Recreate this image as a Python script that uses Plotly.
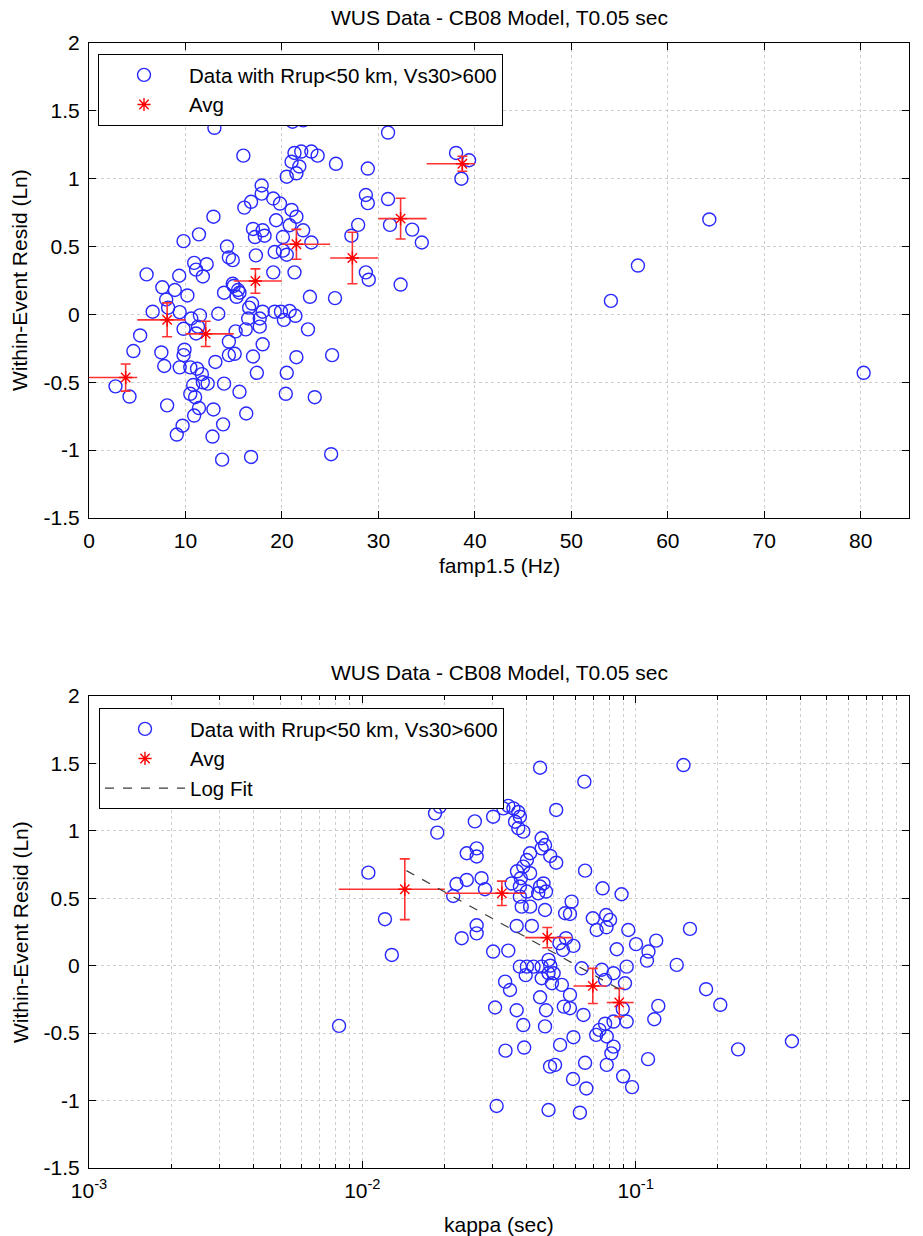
import plotly.graph_objects as go

# ---------------- data: top panel (famp1.5) ----------------
famp = [2.75, 4.2, 4.6, 5.3, 5.97, 6.6, 7.5, 7.6, 7.8, 8.0, 8.1, 8.2, 8.9, 9.1, 9.35, 9.4, 9.4, 9.7, 9.8, 9.8,
        9.9, 10.2, 10.5, 10.5, 10.6, 10.8, 10.9, 10.9, 11.0, 11.1, 11.1, 11.2, 11.3, 11.4, 11.5, 11.7, 11.8, 11.8, 12.2, 12.3,
        12.8, 12.9, 13.1, 13.4, 13.8, 13.9, 14.0, 14.0, 14.5, 14.5, 15.0, 15.1, 15.2, 15.3, 15.6, 15.6, 16.25, 16.3, 16.5, 16.6,
        16.8, 16.9, 17.0, 17.4, 17.7, 17.7, 18.0, 18.0, 19.1, 19.25, 19.9, 20.2, 20.4, 20.5, 20.8, 21.3, 21.4, 21.5,
        18.0, 21.1, 22.2, 13.0, 16.0, 21.3, 22.0, 23.05, 23.7, 21.0, 21.8, 21.5, 20.5, 25.6, 28.9,
        17.9, 17.9, 16.1, 16.8, 19.1, 19.8, 21.0, 21.5, 12.9, 19.4, 20.8, 22.2, 20.1, 17.0, 18.0,
        17.2, 18.2, 11.4, 9.8, 14.3, 14.5, 14.9, 17.3, 19.25, 20.1, 20.5, 14.9, 15.45, 22.9, 25.5,
        31.0, 38.05, 39.4, 38.6, 28.7, 28.9, 31.0, 27.9, 27.2, 31.2, 33.5, 34.5, 23.05, 28.7, 29.0, 32.3,
        25.1, 25.2, 23.4, 22.7, 54.1, 56.9, 64.3, 80.3]
resid_top = [-0.53, -0.605, -0.27, -0.155, 0.295, 0.02, -0.28, 0.20, -0.38, 0.11, -0.67, 0.05, 0.18, -0.885, 0.285, 0.017, -0.39, -0.82, -0.106, -0.30,
             -0.26, 0.14, -0.39, -0.585, -0.03, -0.52, 0.38, -0.745, -0.61, 0.33, -0.14, -0.40, -0.09, -0.69, -0.007, -0.44, 0.28, -0.50, 0.37, -0.51,
             -0.90, -0.70, -0.35, 0.005, -1.07, -0.81, 0.16, -0.51, -0.20, -0.30, 0.21, -0.29, -0.125, 0.13, 0.16, -0.57, -0.11, -0.73, -0.03, 0.05,
             -1.05, 0.08, -0.31, -0.43, -0.03, -0.09, 0.02, -0.22, 0.31, 0.02, 0.02, -0.04, -0.585, -0.43, 0.025, 0.31, -0.01, -0.315,
             1.47, 1.42, 1.43, 1.375, 1.17, 1.19, 1.20, 1.20, 1.17, 1.125, 1.09, 1.04, 1.015, 1.11, 1.075,
             0.95, 0.89, 0.787, 0.83, 0.854, 0.817, 0.77, 0.72, 0.72, 0.694, 0.657, 0.62, 0.57, 0.63, 0.62,
             0.57, 0.58, 0.59, 0.54, 0.50, 0.42, 0.40, 0.435, 0.46, 0.47, 0.44, 0.226, 0.18, 0.13, 0.12,
             1.34, 1.19, 1.136, 1.00, 0.88, 0.82, 0.85, 0.66, 0.58, 0.66, 0.625, 0.53, 0.53, 0.31, 0.256, 0.22,
             -1.03, -0.30, -0.61, -0.11, 0.10, 0.36, 0.70, -0.43]

avg_top_x = [3.8, 8.1, 12.1, 17.25, 21.5, 27.3, 32.3, 38.7]
avg_top_y = [-0.465, -0.04, -0.143, 0.246, 0.517, 0.416, 0.706, 1.11]
avg_top_yerr = [0.10, 0.125, 0.093, 0.09, 0.11, 0.19, 0.15, 0.055]
bin_top_lo = [0, 5, 10, 15, 20, 25, 30, 35]
bin_top_hi = [5, 10, 15, 20, 25, 30, 35, 40]

# ---------------- data: bottom panel (kappa) ----------------
kappa = [0.0447, 0.0192, 0.01845, 0.0188, 0.0258, 0.0301, 0.0328, 0.0342, 0.0357, 0.0372, 0.0377, 0.0362, 0.0372,
         0.0388, 0.0453, 0.0466, 0.0453, 0.0241, 0.0262, 0.0262, 0.01052, 0.0411, 0.0400, 0.0388, 0.0368, 0.0411,
         0.0121, 0.01282, 0.00822, 0.0221, 0.0241, 0.0273, 0.0281, 0.0215, 0.0262, 0.0262, 0.0231, 0.0301, 0.0342,
         0.0367, 0.0417, 0.0352, 0.0377, 0.0400, 0.0447, 0.044, 0.047, 0.046, 0.0383, 0.0411, 0.0466, 0.0377, 0.0400,
         0.0423, 0.0396, 0.0453, 0.0453, 0.048, 0.048, 0.0333, 0.0347, 0.0306, 0.0367, 0.0447, 0.0388, 0.047, 0.0466,
         0.0334, 0.0391, 0.0310, 0.0486, 0.0480,
         0.1496, 0.0649, 0.0512, 0.0487, 0.0512, 0.038, 0.0377, 0.0653, 0.0757, 0.0888, 0.158, 0.1189, 0.1114, 0.1100,
         0.1003, 0.0940, 0.0853, 0.0697, 0.078, 0.0806, 0.072, 0.0782, 0.0583, 0.0552, 0.0575, 0.1413, 0.181, 0.204,
         0.121, 0.117, 0.111, 0.0927, 0.0914, 0.0927, 0.083, 0.0752, 0.0773, 0.083, 0.0773, 0.0737, 0.0717, 0.0784,
         0.083, 0.0815, 0.0784, 0.0653, 0.0592, 0.0529, 0.0507, 0.0635, 0.0644, 0.0575, 0.0546, 0.0575, 0.0537, 0.0494,
         0.0501, 0.0487, 0.0526, 0.0556, 0.0592, 0.0542,
         0.373, 0.237, 0.059, 0.066, 0.090, 0.097, 0.0625, 0.0897]
resid_bot = [1.468, 1.18, 1.13, 0.987, 1.07, 1.105, 1.167, 1.185, 1.167, 1.14, 1.105, 1.068, 1.02,
             0.994, 0.945, 0.895, 0.87, 0.834, 0.87, 0.81, 0.69, 0.834, 0.784, 0.735, 0.70, 0.686,
             0.345, 0.08, -0.446, 0.606, 0.636, 0.649, 0.567, 0.517, 0.30, 0.24, 0.204, 0.105, 0.112,
             0.295, 0.295, 0.61, 0.587, 0.55, 0.587, 0.537, 0.55, 0.61, 0.438, 0.438, 0.413, -0.007, -0.007,
             -0.007, -0.07, -0.007, -0.093, 0.043, -0.056, -0.118, -0.18, -0.31, -0.33, -0.234, -0.44, -0.33, -0.45,
             -0.63, -0.607, -1.04, -0.748, -1.07,
             1.488, 1.365, 1.155, 0.814, 0.764, 0.649, 0.512, 0.705, 0.574, 0.53, 0.273, 0.186, 0.105, 0.038,
             0.16, 0.265, 0.122, 0.352, 0.376, 0.34, 0.265, 0.285, 0.475, 0.389, 0.384, 0.006, -0.174, -0.29,
             -0.298, -0.397, -0.693, -0.007, -0.13, -0.414, -0.056, -0.03, -0.105, -0.414, -0.43, -0.476, -0.513, -0.525,
             -0.60, -0.65, -0.735, -0.72, -0.53, -0.587, -0.735, -0.019, -0.365, -0.216, -0.303, -0.315, -0.142, -0.13,
             -0.056, 0.0, 0.167, 0.204, 0.147, 0.117,
             -0.56, -0.62, -0.84, -0.91, -0.82, -0.90, -1.09, -0.32]

avg_bot_x = [0.0143, 0.0324, 0.0475, 0.0697, 0.0871]
avg_bot_y = [0.567, 0.537, 0.208, -0.15, -0.273]
avg_bot_yerr = [0.225, 0.09, 0.075, 0.13, 0.105]
avg_bot_xlo = [0.0082, 0.0200, 0.0394, 0.0592, 0.0784]
avg_bot_xhi = [0.0200, 0.0394, 0.0583, 0.0784, 0.0983]

fit_x = [0.0145, 0.0871]
fit_y = [0.705, -0.174]

# ---------------- labels / ticks ----------------
title_text = "WUS Data - CB08 Model, T0.05 sec"
ylabel = "Within-Event Resid (Ln)"
xlabel_top = "famp1.5 (Hz)"
xlabel_bot = "kappa (sec)"
legend_data = "Data with Rrup<50 km, Vs30>600"
legend_avg = "Avg"
legend_fit = "Log Fit"
y_tickvals = [-1.5, -1, -0.5, 0, 0.5, 1, 1.5, 2]
y_ticktext = ["-1.5", "-1", "-0.5", "0", "0.5", "1", "1.5", "2"]
x_top_tickvals = [0, 10, 20, 30, 40, 50, 60, 70, 80]
x_bot_tickvals = [0.001, 0.01, 0.1, 1]
x_bot_ticktext = ["10<sup>-3</sup>", "10<sup>-2</sup>", "10<sup>-1</sup>", "10<sup>0</sup>"]

# ---------------- figure ----------------
W, H = 923, 1236
FONT = "Liberation Sans, Arial, sans-serif"
FS = 21
LFS = 20.5
BLUE = "rgb(40,40,255)"
RED = "rgb(255,50,50)"
GRID = "rgb(205,205,205)"

fig = go.Figure()

circle_marker = dict(symbol="circle-open", size=13, color=BLUE, line=dict(width=1.4, color=BLUE))
star_marker = dict(symbol="asterisk-open", size=11, color="red", line=dict(width=1.4, color="red"))

fig.add_trace(go.Scatter(x=famp, y=resid_top, mode="markers", marker=circle_marker,
                         name=legend_data, xaxis="x", yaxis="y", legend="legend"))
fig.add_trace(go.Scatter(
    x=avg_top_x, y=avg_top_y, mode="markers", marker=star_marker, name=legend_avg,
    xaxis="x", yaxis="y", legend="legend",
    error_y=dict(type="data", array=avg_top_yerr, color=RED, thickness=1.6, width=5),
    error_x=dict(type="data", symmetric=False,
                 array=[h - x for h, x in zip(bin_top_hi, avg_top_x)],
                 arrayminus=[x - l for l, x in zip(bin_top_lo, avg_top_x)],
                 color=RED, thickness=1.6, width=0)))

fig.add_trace(go.Scatter(x=kappa, y=resid_bot, mode="markers", marker=circle_marker,
                         name=legend_data, xaxis="x2", yaxis="y2", legend="legend2"))
fig.add_trace(go.Scatter(
    x=avg_bot_x, y=avg_bot_y, mode="markers", marker=star_marker, name=legend_avg,
    xaxis="x2", yaxis="y2", legend="legend2",
    error_y=dict(type="data", array=avg_bot_yerr, color=RED, thickness=1.6, width=5),
    error_x=dict(type="data", symmetric=False,
                 array=[h - x for h, x in zip(avg_bot_xhi, avg_bot_x)],
                 arrayminus=[x - l for l, x in zip(avg_bot_xlo, avg_bot_x)],
                 color=RED, thickness=1.6, width=0)))
fig.add_trace(go.Scatter(x=fit_x, y=fit_y, mode="lines", name=legend_fit,
                         line=dict(color="rgb(60,60,60)", width=1.2, dash="dash"),
                         xaxis="x2", yaxis="y2", legend="legend2"))

L, R = 89 / W, 909 / W
top_dom = [1 - 518 / H, 1 - 43 / H]
bot_dom = [1 - 1168 / H, 1 - 696 / H]

axis_common = dict(showline=True, linecolor="black", linewidth=1, mirror="ticks",
                   ticks="inside", ticklen=7, tickcolor="black", tickwidth=1,
                   showgrid=True, gridcolor=GRID, griddash="dot", gridwidth=1,
                   zeroline=False, automargin=False,
                   tickfont=dict(family=FONT, size=FS, color="black"))

minor_vals = [m * 10 ** e for e in (-3, -2, -1) for m in range(2, 10)]

legend_common = dict(xanchor="left", yanchor="top", bgcolor="white",
                     bordercolor="black", borderwidth=1, itemwidth=80,
                     font=dict(family=FONT, size=LFS, color="black"), tracegroupgap=0)

fig.update_layout(
    width=W, height=H, margin=dict(l=0, r=0, t=0, b=0, autoexpand=False),
    paper_bgcolor="white", plot_bgcolor="white",
    font=dict(family=FONT, size=FS, color="black"),
    xaxis=dict(domain=[L, R], anchor="y", range=[0, 85], tickmode="array",
               tickvals=x_top_tickvals, ticklabelstandoff=4, **axis_common),
    yaxis=dict(domain=top_dom, anchor="x", range=[-1.5, 2], tickmode="array",
               tickvals=y_tickvals, ticktext=y_ticktext, ticklabelstandoff=4, **axis_common),
    xaxis2=dict(domain=[L, R], anchor="y2", type="log", range=[-3, 0], tickmode="array",
                tickvals=x_bot_tickvals, ticktext=x_bot_ticktext, ticklabelstandoff=4,
                minor=dict(tickmode="array", tickvals=minor_vals, ticks="inside", ticklen=4,
                           tickcolor="black", showgrid=True, gridcolor=GRID, griddash="dot", gridwidth=1),
                **axis_common),
    yaxis2=dict(domain=bot_dom, anchor="x2", range=[-1.5, 2], tickmode="array",
                tickvals=y_tickvals, ticktext=y_ticktext, ticklabelstandoff=4, **axis_common),
    legend=dict(x=98 / W, y=1 - 54 / H, **legend_common),
    legend2=dict(x=99 / W, y=1 - 708 / H, **legend_common),
    showlegend=True,
)

cx = (L + R) / 2
ann = [
    dict(text=title_text, x=cx, y=1 - 18 / H),
    dict(text=title_text, x=cx, y=1 - 672 / H),
    dict(text=xlabel_top, x=cx, y=1 - 565 / H),
    dict(text=xlabel_bot, x=cx, y=1 - 1224 / H),
    dict(text=ylabel, x=20 / W, y=1 - 280 / H, textangle=-90),
    dict(text=ylabel, x=20 / W, y=1 - 932 / H, textangle=-90),
]
for a in ann:
    fig.add_annotation(xref="paper", yref="paper", showarrow=False, xanchor="center", yanchor="middle",
                       font=dict(family=FONT, size=FS, color="black"), **a)

fig.write_html("out.html")
